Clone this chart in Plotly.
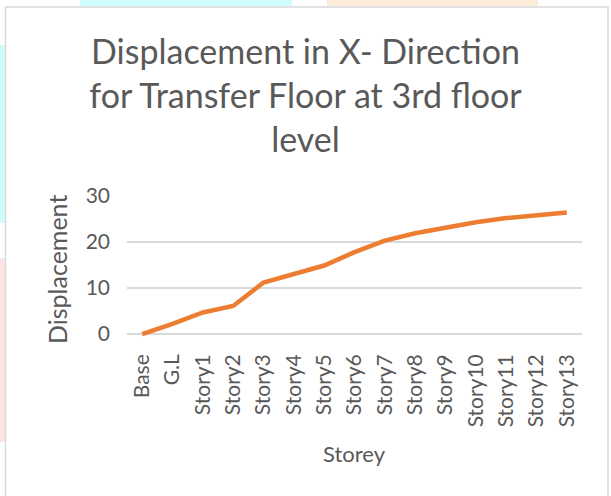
import plotly.graph_objs as go

storeys = ["Base", "G.L", "Story1", "Story2", "Story3", "Story4", "Story5", "Story6",
           "Story7", "Story8", "Story9", "Story10", "Story11", "Story12", "Story13"]
displacement = [0, 2.2, 4.7, 6.1, 11.2, 13.1, 14.9, 17.8, 20.3, 21.9, 23.2, 24.3, 25.2, 25.9, 26.4]
y_ticks = [0, 10, 20, 30]

W, H = 611, 496
L, R, T, B = 127, 29, 196, 155
grey = "#595959"
font = "Lato"


def px(x):
    return (x - L) / (W - L - R)


def py(y):
    return (H - B - y) / (H - T - B)


fig = go.Figure()
fig.add_trace(go.Scatter(x=storeys, y=displacement, mode="lines",
                         line=dict(color="#ED7D31", width=4.5)))

shapes = [
    # page colour bits around the chart frame
    dict(type="rect", xref="paper", yref="paper", x0=px(80), x1=px(292), y0=py(0), y1=py(6),
         fillcolor="#CFFCFC", line_width=0, layer="below"),
    dict(type="rect", xref="paper", yref="paper", x0=px(327), x1=px(538), y0=py(0), y1=py(6),
         fillcolor="#FDEBD9", line_width=0, layer="below"),
    dict(type="rect", xref="paper", yref="paper", x0=px(0), x1=px(5), y0=py(45), y1=py(223),
         fillcolor="#CFFCFC", line_width=0, layer="below"),
    dict(type="rect", xref="paper", yref="paper", x0=px(0), x1=px(5), y0=py(258), y1=py(442),
         fillcolor="#FDE4E4", line_width=0, layer="below"),
    # chart frame
    dict(type="rect", xref="paper", yref="paper", x0=px(5.5), x1=px(608), y0=py(510), y1=py(7),
         fillcolor="rgba(0,0,0,0)", line=dict(color="#D9D9D9", width=1.5), layer="below"),
]

fig.update_layout(
    width=W, height=H,
    margin=dict(l=L, r=R, t=T, b=B),
    paper_bgcolor="white", plot_bgcolor="white",
    showlegend=False,
    font=dict(family=font, color=grey),
    title=dict(text="Displacement in X- Direction<br>for Transfer Floor at 3rd floor<br>level",
               x=0.5, xref="container", xanchor="center",
               y=1 - 64 / H, yref="container", yanchor="top",
               font=dict(size=34, color=grey, family=font)),
    shapes=shapes,
    annotations=[
        dict(text="Displacement", xref="paper", yref="paper", x=px(57), y=py(270),
             xanchor="center", yanchor="middle",
             textangle=-90, showarrow=False, font=dict(size=25, color=grey, family=font)),
        dict(text="Storey", xref="paper", yref="paper", x=px(354), y=py(453),
             xanchor="center", yanchor="middle",
             showarrow=False, font=dict(size=22, color=grey, family=font)),
    ],
)

fig.update_xaxes(type="category", range=[-0.5, 14.5], showgrid=False, zeroline=False,
                 showline=False, tickangle=-90, ticks="", ticklabelstandoff=8,
                 tickfont=dict(size=21, color=grey, family=font))
fig.update_yaxes(range=[-1.5, 30], tickvals=y_ticks, showgrid=True, gridcolor="#D9D9D9",
                 gridwidth=1.5, zeroline=False, showline=False, ticks="",
                 ticklabelstandoff=16, tickfont=dict(size=21, color=grey, family=font))

fig.write_html("out.html", config={"displayModeBar": False},
               post_script="document.body.style.margin = '0';")
